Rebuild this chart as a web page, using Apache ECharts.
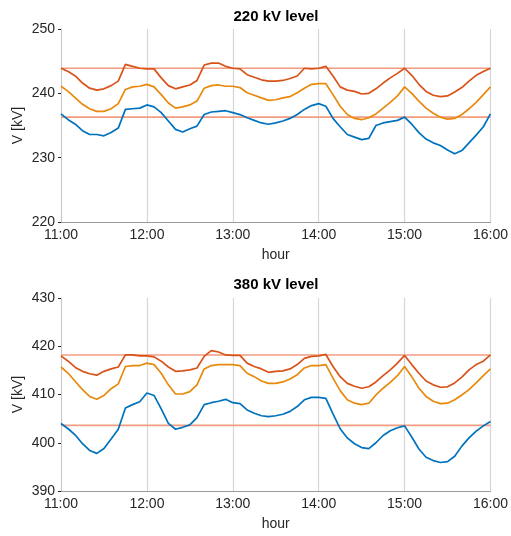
<!DOCTYPE html>
<html>
<head>
<meta charset="utf-8">
<script src="https://cdn.jsdelivr.net/npm/echarts@6/dist/echarts.min.js"></script>
<style>
  html, body { margin: 0; padding: 0; background: #fff; }
  #chart { width: 511px; height: 536px; }
</style>
</head>
<body>
<div id="chart"></div>
<script>
// Time in minutes after 11:00, one sample every 5 minutes
const minutes = [0,5,10,15,20,25,30,35,40,45,50,55,60,65,70,75,80,85,90,95,100,105,110,115,120,125,130,135,140,145,150,155,160,165,170,175,180,185,190,195,200,205,210,215,220,225,230,235,240,245,250,255,260,265,270,275,280,285,290,295,300];
const hourLabels = ['11:00','12:00','13:00','14:00','15:00','16:00'];

// 220 kV level, bus voltages [kV]
const v220Blue = [236.8,235.9,235.2,234.2,233.6,233.6,233.4,233.9,234.6,237.5,237.6,237.7,238.2,237.9,237.0,235.7,234.4,234.0,234.5,234.9,236.7,237.1,237.2,237.3,237.0,236.7,236.2,235.8,235.4,235.2,235.4,235.7,236.1,236.7,237.5,238.1,238.4,238.0,236.1,234.8,233.6,233.2,232.8,233.0,235.0,235.4,235.6,235.8,236.3,235.2,233.9,232.9,232.3,231.9,231.2,230.6,231.1,232.3,233.5,234.8,236.8];
const v220Orange = [241.1,240.3,239.3,238.3,237.6,237.2,237.2,237.6,238.4,240.6,241.0,241.1,241.4,241.0,239.8,238.5,237.7,237.9,238.2,238.8,240.8,241.2,241.3,241.1,241.1,240.9,240.1,239.7,239.3,238.9,239.0,239.3,239.5,240.1,240.8,241.4,241.5,241.5,239.8,238.0,236.7,236.1,235.9,236.2,236.8,237.7,238.6,239.6,241.0,240.0,238.8,237.7,236.9,236.3,236.0,236.1,236.7,237.6,238.6,239.8,241.0];
const v220Red = [243.9,243.4,242.7,241.6,240.8,240.5,240.7,241.2,241.9,244.5,244.2,243.9,243.8,243.8,242.4,241.2,240.7,241.0,241.3,242.0,244.4,244.7,244.7,244.2,243.9,243.8,242.9,242.5,242.1,241.9,241.9,242.0,242.3,242.7,243.9,243.8,243.9,244.2,242.7,241.0,240.5,240.3,239.9,240.0,240.7,241.6,242.4,243.1,243.9,242.8,241.4,240.3,239.7,239.5,239.6,240.2,240.9,241.9,242.8,243.4,243.9];
const limits220 = [243.9, 236.3];

// 380 kV level, bus voltages [kV]
const v380Blue = [404.0,402.9,401.6,399.8,398.4,397.8,398.8,400.8,402.8,407.2,407.9,408.5,410.3,409.8,407.0,404.0,402.8,403.2,403.7,405.2,407.9,408.3,408.6,409.0,408.3,408.1,406.8,406.1,405.6,405.4,405.6,405.9,406.5,407.5,408.9,409.4,409.4,409.2,406.0,402.9,401.0,399.8,399.0,398.8,400.0,401.5,402.5,403.1,403.5,401.2,398.7,397.0,396.3,395.9,396.1,397.2,399.3,401.0,402.4,403.5,404.4];
const v380Orange = [415.7,414.4,412.7,411.0,409.6,409.0,409.8,411.2,412.2,415.8,416.0,416.0,416.5,416.2,414.4,412.0,410.1,410.1,410.6,412.0,415.3,416.0,416.2,416.2,416.2,416.0,414.4,413.7,412.8,412.3,412.3,412.6,413.2,414.1,415.5,416.0,416.0,416.2,413.4,410.8,408.9,408.2,407.9,408.2,409.9,411.3,412.5,413.9,415.8,413.7,411.3,409.6,408.6,408.1,408.2,408.9,409.9,411.0,412.4,413.9,415.3];
const v380Red = [418.0,416.9,415.6,414.8,414.3,414.0,414.8,415.3,415.7,418.2,418.2,418.0,418.0,417.8,416.9,415.7,414.8,414.9,415.1,415.5,417.9,419.1,418.8,418.2,418.1,418.1,416.5,415.8,415.3,414.6,414.8,414.9,415.3,416.2,417.5,417.9,418.0,418.3,415.8,413.7,412.3,411.7,411.3,411.6,412.6,413.9,415.1,416.5,418.1,416.2,414.4,412.8,412.0,411.5,411.6,412.4,413.6,415.1,416.2,416.9,418.2];
const limits380 = [418.2, 403.6];

const FONT = "'Liberation Sans', Arial, Helvetica, sans-serif";
const TEXT = '#262626';
const COLORS = { blue: '#0072BD', orange: '#E8890C', red: '#D95319', limit: '#F29C80' };

function pairs(vals) { return minutes.map((m, i) => [m, vals[i]]); }
function flat(v) { return [[minutes[0], v], [minutes[minutes.length - 1], v]]; }

function xAxisFor(gridIndex) {
  return {
    gridIndex, type: 'value', min: 0, max: 300, interval: 60,
    name: 'hour', nameLocation: 'middle', nameGap: 26, nameMoveOverlap: false,
    nameTextStyle: { fontFamily: FONT, fontSize: 14, color: TEXT },
    axisLine: { show: true, lineStyle: { color: '#9a9a9a', width: 1 } },
    axisTick: { show: false },
    axisLabel: { fontFamily: FONT, fontSize: 14, color: TEXT, margin: 6,
      formatter: v => hourLabels[Math.round(v / 60)] },
    splitLine: { show: true, lineStyle: { color: '#d6d6d6', width: 1.2 } }
  };
}
function yAxisFor(gridIndex, min, max) {
  return {
    gridIndex, type: 'value', min, max, interval: 10,
    name: 'V [kV]', nameLocation: 'middle', nameGap: 36, nameMoveOverlap: false,
    nameTextStyle: { fontFamily: FONT, fontSize: 14, color: TEXT },
    axisLine: { show: true, lineStyle: { color: '#c8c8c8', width: 1 } },
    axisTick: { show: true, length: 3, lineStyle: { color: TEXT, width: 1 } },
    axisLabel: { fontFamily: FONT, fontSize: 14, color: TEXT, margin: 6 },
    splitLine: { show: false }
  };
}
function line(idx, data, color, width) {
  return {
    type: 'line', xAxisIndex: idx, yAxisIndex: idx, data,
    showSymbol: false, symbol: 'none', animation: false,
    lineStyle: { color, width }, itemStyle: { color }
  };
}

const series = [];
[[0, limits220, v220Blue, v220Orange, v220Red], [1, limits380, v380Blue, v380Orange, v380Red]]
  .forEach(([idx, lim, b, o, r]) => {
    lim.forEach(v => series.push(line(idx, flat(v), COLORS.limit, 1.6)));
    series.push(line(idx, pairs(b), COLORS.blue, 1.7));
    series.push(line(idx, pairs(o), COLORS.orange, 1.7));
    series.push(line(idx, pairs(r), COLORS.red, 1.7));
  });

const chart = echarts.init(document.getElementById('chart'), null, { renderer: 'canvas' });
chart.setOption({
  animation: false,
  backgroundColor: '#fff',
  title: [
    { text: '220 kV level', left: 276, top: 9, textAlign: 'center', padding: 0,
      textStyle: { fontFamily: FONT, fontSize: 15, fontWeight: 'bold', color: '#000' } },
    { text: '380 kV level', left: 276, top: 277, textAlign: 'center', padding: 0,
      textStyle: { fontFamily: FONT, fontSize: 15, fontWeight: 'bold', color: '#000' } }
  ],
  grid: [
    { left: 61, right: 20, top: 29, height: 193 },
    { left: 61, right: 20, top: 298, height: 193 }
  ],
  xAxis: [xAxisFor(0), xAxisFor(1)],
  yAxis: [yAxisFor(0, 220, 250), yAxisFor(1, 390, 430)],
  series
});
</script>
</body>
</html>
